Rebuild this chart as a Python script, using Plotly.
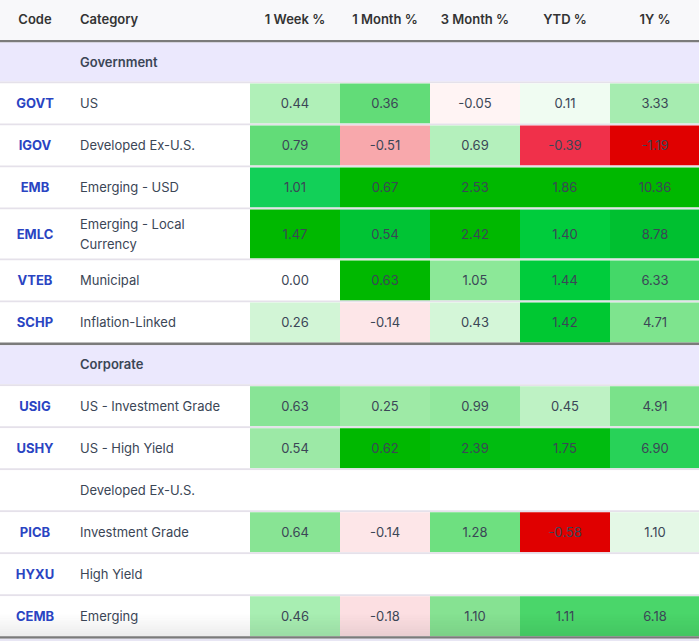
import plotly.graph_objects as go

# table content
columns = ["Code", "Category", "1 Week %", "1 Month %", "3 Month %", "YTD %", "1Y %"]
sections = ["Government", "Corporate"]
codes = ["", "GOVT", "IGOV", "EMB", "EMLC", "VTEB", "SCHP",
         "", "USIG", "USHY", "", "PICB", "HYXU", "CEMB"]
categories = ["Government", "US", "Developed Ex-U.S.", "Emerging - USD",
              "Emerging - Local\nCurrency", "Municipal", "Inflation-Linked",
              "Corporate", "US - Investment Grade", "US - High Yield",
              "Developed Ex-U.S.", "Investment Grade", "High Yield", "Emerging"]
week_1 = [None, 0.44, 0.79, 1.01, 1.47, 0.00, 0.26, None, 0.63, 0.54, None, 0.64, None, 0.46]
month_1 = [None, 0.36, -0.51, 0.67, 0.54, 0.63, -0.14, None, 0.25, 0.62, None, -0.14, None, -0.18]
month_3 = [None, -0.05, 0.69, 2.53, 2.42, 1.05, 0.43, None, 0.99, 2.39, None, 1.28, None, 1.10]
ytd = [None, 0.11, -0.39, 1.86, 1.40, 1.44, 1.42, None, 0.45, 1.75, None, -0.58, None, 1.11]
year_1 = [None, 3.33, -1.19, 10.36, 8.78, 6.33, 4.71, None, 4.91, 6.90, None, 1.10, None, 6.18]

# cell fill colours, one row per table row (None = plain row background)
cell_colors = [
    [None] * 5,
    ["#b0f0b8", "#62dc78", "#fff4f4", "#f0fcf2", "#a6ecb0"],
    ["#62dc78", "#f8a8ac", "#b4f0bc", "#f0304a", "#e00000"],
    ["#12d058", "#00b800", "#00b800", "#00b800", "#00b800"],
    ["#00b800", "#00c434", "#00b800", "#00cc3c", "#00c030"],
    ["#ffffff", "#00b800", "#8ce898", "#00cc3c", "#44d868"],
    ["#d2f5d6", "#fde6e8", "#d4f6d8", "#00c832", "#7ee48e"],
    [None] * 5,
    ["#88e496", "#9eeaa6", "#92e89e", "#bef2c4", "#7ae28a"],
    ["#9ce9a6", "#00b800", "#00bc10", "#00bc10", "#28d258"],
    [None] * 5,
    ["#88e494", "#fde6e8", "#6ee080", "#e00000", "#e4f8e6"],
    [None] * 5,
    ["#a8eeb2", "#fcdfe2", "#86e292", "#4ad66a", "#4ad66a"],
]

W, H = 699, 641
FONT = "Inter, Roboto, sans-serif"
TXT = "#3b4656"
col_x0 = [250, 340, 430, 520, 610]
col_w = 90
header_h = 40
thick = 2.6
sep = 2
dy = 1.5  # baseline nudge for body text

value_cols = [week_1, month_1, month_3, ytd, year_1]

shapes = []
def rect(x0, y0, x1, y1, color):
    shapes.append(dict(type="rect", xref="x", yref="y", x0=x0, x1=x1, y0=y0, y1=y1,
                       fillcolor=color, line=dict(width=0), layer="below"))

# header background
rect(0, 0, W, header_h, "#f8f8fa")

cx, cy, ctext = [], [], []
kx, ky, ktext = [], [], []
sx, sy, stext = [], [], []
vx, vy, vtext = [], [], []

y = header_h
n = len(categories)
for i in range(n):
    is_section = categories[i] in sections
    if is_section:
        rect(0, y, W, y + thick, "#7b7b7b")
        y += thick
    lines = categories[i].split("\n")
    h = (39 if is_section else 40) + 9 * (len(lines) - 1)
    rect(0, y, W, y + h, "#ebe8fd" if is_section else "#ffffff")
    mid = y + h / 2 + dy
    for j in range(5):
        c = cell_colors[i][j]
        if c is not None:
            rect(col_x0[j], y, col_x0[j] + col_w, y + h, c)
        v = value_cols[j][i]
        if v is not None:
            vx.append(col_x0[j] + col_w / 2)
            vy.append(mid)
            vtext.append(f"{v:.2f}")
    if codes[i]:
        kx.append(35)
        ky.append(mid)
        ktext.append(codes[i])
    for k, line in enumerate(lines):
        off = (k - (len(lines) - 1) / 2) * 20.6
        if is_section:
            sx.append(80); sy.append(mid + off); stext.append(line)
        else:
            cx.append(80); cy.append(mid + off); ctext.append(line)
    y += h
    if i < n - 1 and categories[i + 1] not in sections:
        rect(0, y, W, y + sep, "#e5e1ea")
        y += sep
rect(0, y, W, y + thick, "#7b7b7b")
rect(0, y + thick, W, H, "#e8e6f4")

# soft scroll shadow on the last row
for k in range(12):
    y0 = y - 22 + k * 22 / 12
    rect(0, y0, W, y0 + 22 / 12, f"rgba(0,0,0,{0.006 * (k + 1):.3f})")

fig = go.Figure()

# header text
hx = [35, 80] + [x + col_w / 2 for x in col_x0]
hpos = ["middle center", "middle right"] + ["middle center"] * 5
for x, t, p in zip(hx, columns, hpos):
    fig.add_trace(go.Scatter(x=[x], y=[20.5], text=[t], mode="text", textposition=p,
                             textfont=dict(family=FONT, size=13, color="#333333", weight=600),
                             hoverinfo="skip", showlegend=False))

fig.add_trace(go.Scatter(x=kx, y=ky, text=ktext, mode="text", textposition="middle center",
                         textfont=dict(family=FONT, size=13, color="#2a44c2", weight=700),
                         hoverinfo="skip", showlegend=False))
fig.add_trace(go.Scatter(x=cx, y=cy, text=ctext, mode="text", textposition="middle right",
                         textfont=dict(family=FONT, size=13, color=TXT),
                         hoverinfo="skip", showlegend=False))
fig.add_trace(go.Scatter(x=sx, y=sy, text=stext, mode="text", textposition="middle right",
                         textfont=dict(family=FONT, size=13, color=TXT, weight=600),
                         hoverinfo="skip", showlegend=False))
fig.add_trace(go.Scatter(x=vx, y=vy, text=vtext, mode="text", textposition="middle center",
                         textfont=dict(family=FONT, size=13, color=TXT),
                         hoverinfo="skip", showlegend=False))

fig.update_layout(
    width=W, height=H,
    margin=dict(l=0, r=0, t=0, b=0),
    paper_bgcolor="white", plot_bgcolor="white",
    shapes=shapes,
    xaxis=dict(range=[0, W], visible=False, fixedrange=True),
    yaxis=dict(range=[H, 0], visible=False, fixedrange=True),
)
fig.write_html("out.html", config={"displayModeBar": False},
               post_script="document.body.style.margin='0';")
